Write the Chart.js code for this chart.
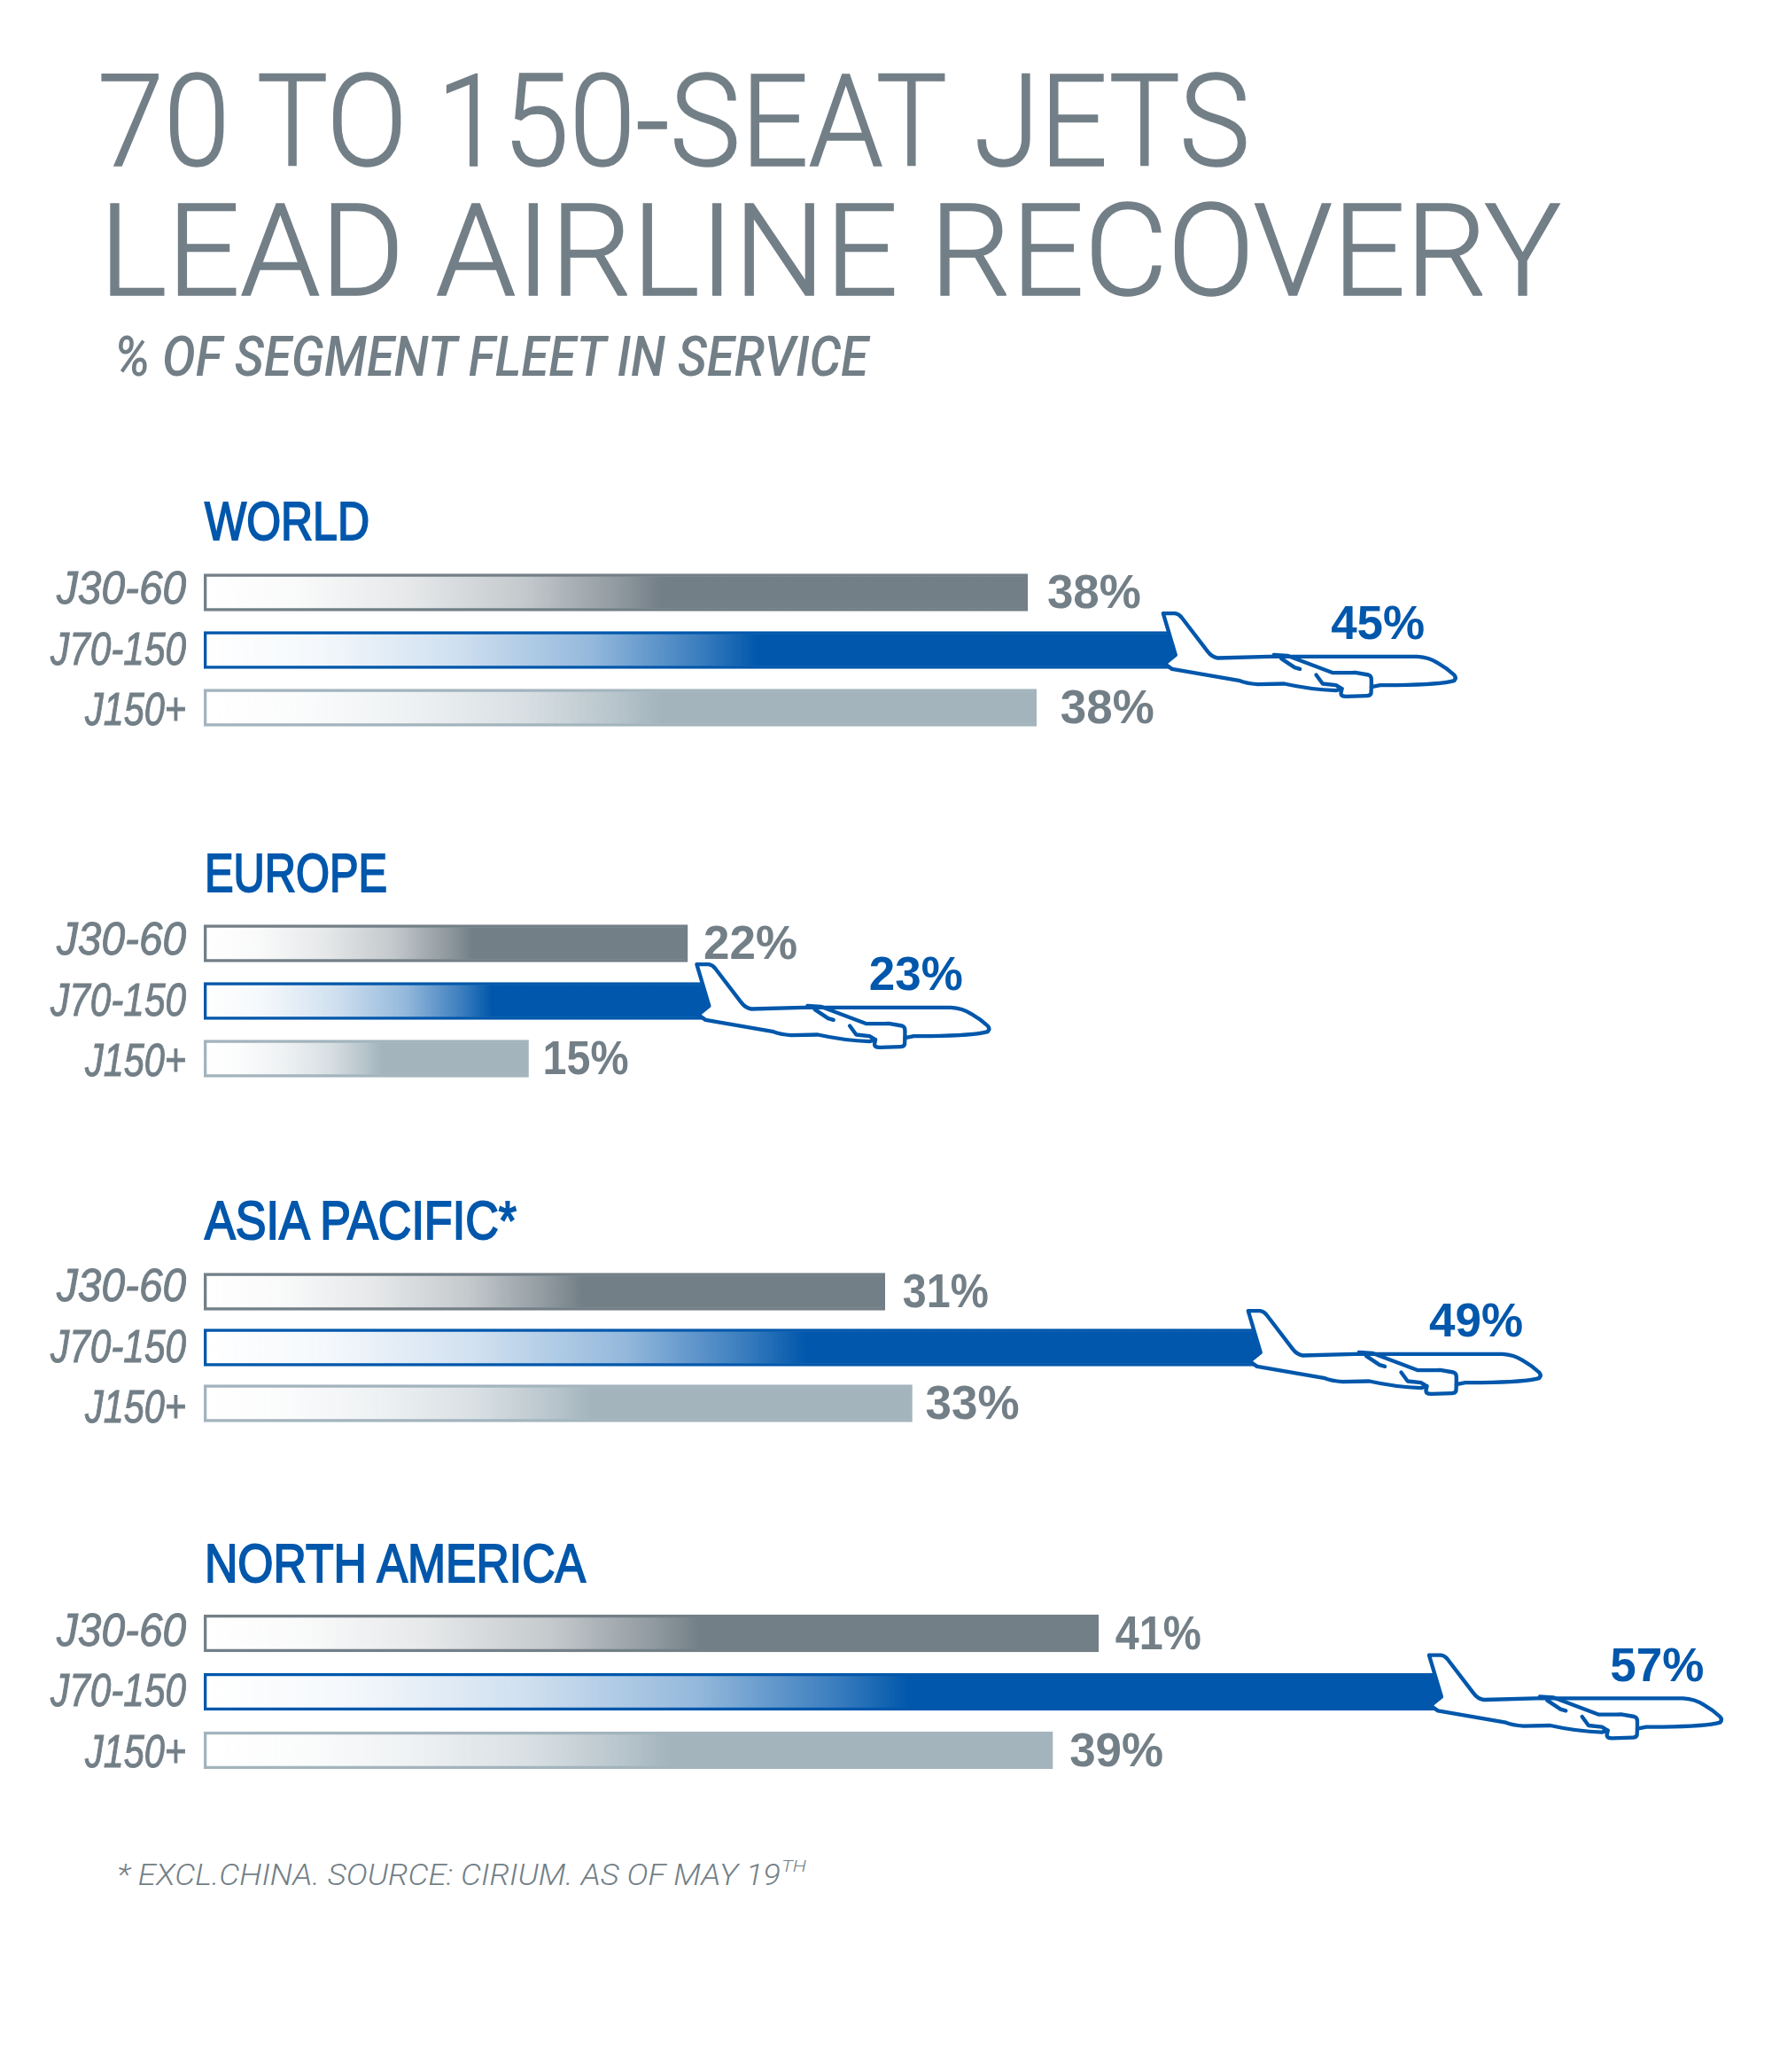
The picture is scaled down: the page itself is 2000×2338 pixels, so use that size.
<!DOCTYPE html>
<html>
<head>
<meta charset="utf-8">
<title>70 to 150-seat jets lead airline recovery</title>
<script src="https://cdn.jsdelivr.net/npm/chart.js@4"></script>
<style>
    html, body { margin: 0; background: #fff; }
    body { position: relative; width: 2000px; height: 2338px; overflow: hidden; }
    canvas, svg { position: absolute; left: 0; }
    svg { top: 0; }
    text { fill: #737f87; }
    .title { font: 300 145px Roboto, sans-serif; stroke: #737f87; stroke-width: 1.5px; }
    .sub { font: italic 500 62px Roboto, sans-serif; }
    .head { font: 62px "Liberation Sans Narrow", sans-serif; fill: #0057ab; stroke: #0057ab; stroke-width: 2px; }
    .foot { font: italic 300 33px Roboto, sans-serif; }
    .sup { font: italic 300 18px Roboto, sans-serif; }
</style>
</head>
<body>
<svg width="2000" height="2338">
    <text class="title" x="110" y="187" textLength="1301" lengthAdjust="spacingAndGlyphs">70 TO 150-SEAT JETS</text>
    <text class="title" x="112" y="333" textLength="1650" lengthAdjust="spacingAndGlyphs">LEAD AIRLINE RECOVERY</text>
    <text class="sub" x="129" y="424" textLength="851" lengthAdjust="spacingAndGlyphs">% OF SEGMENT FLEET IN SERVICE</text>
    <text class="head" x="231" y="609" textLength="186" lengthAdjust="spacingAndGlyphs">WORLD</text>
    <text class="head" x="231" y="1006" textLength="206" lengthAdjust="spacingAndGlyphs">EUROPE</text>
    <text class="head" x="231" y="1398" textLength="352" lengthAdjust="spacingAndGlyphs">ASIA PACIFIC*</text>
    <text class="head" x="231" y="1785" textLength="430" lengthAdjust="spacingAndGlyphs">NORTH AMERICA</text>
    <text class="foot" x="132" y="2127" textLength="749" lengthAdjust="spacingAndGlyphs">* EXCL.CHINA. SOURCE: CIRIUM. AS OF MAY 19</text>
    <text class="sup" x="882" y="2112" textLength="28" lengthAdjust="spacingAndGlyphs">TH</text>
</svg>
<canvas id="world"></canvas>
<canvas id="europe"></canvas>
<canvas id="asia"></canvas>
<canvas id="northAmerica"></canvas>
<script>
const segments = ["J30-60", "J70-150", "J150+"];
const world = [37.8, 44.6, 38.2];
const europe = [22.2, 23.2, 14.9];
const asiaPacific = [31.25, 48.5, 32.5];
const northAmerica = [41.05, 56.8, 38.95];

const grey = "#737f87";
const blue = "#0057ab";
const segmentRgb = ["115,127,135", "0,87,171", "163,180,189"];
const labelColors = [grey, blue, grey];

// how strong the bar colour is along the fade, and where the fade ends per segment
const fadeStops = [[0, 0], [0.2, 0.04], [0.45, 0.18], [0.7, 0.42], [0.9, 0.78], [1, 1]];
const fadeEnds = [0.555, 0.57, 0.55];

const tickWidths = [146, 153, 114];
const tickPitch = 68.5;

const pxPerPercent = 24.6;
const barLeft = 230;
const tickRight = 210;
const pad = 60;

const plane = {
    outline: new Path2D("M340 97 L380 97 Q392 98 402 110 L490 225 Q505 245 525 248 L700 243 L1200 243 Q1240 245 1270 265 Q1300 282 1325 305 Q1335 315 1325 325 Q1280 338 1130 340 L1075 340 L1045 346 L1044 368 Q1040 376 1030 376 L960 378 Q942 378 942 368 L945 352 L925 358 Q840 355 750 335 L660 337 Q620 333 600 325 L370 285 L345 268 L382 238 Z"),
    details: new Path2D("M715 237 L760 240 L915 298 Q960 298 990 297 L1035 305 Q1045 308 1045 320 L1045 346 M740 250 L785 280 L803 285 M858 305 L880 335 L925 340 L945 352"),
};

const fadeFill = (context) => {
    const { chart, dataIndex, parsed } = context;
    const rgb = segmentRgb[dataIndex] || segmentRgb[0];
    const x0 = chart.scales.x ? chart.scales.x.getPixelForValue(0) : NaN;
    const x1 = chart.scales.x && parsed ? chart.scales.x.getPixelForValue(parsed.x) : NaN;
    if (!Number.isFinite(x0) || !Number.isFinite(x1)) return `rgb(${rgb})`;
    const gradient = chart.ctx.createLinearGradient(x0, 0, x1, 0);
    fadeStops.forEach(([at, alpha]) => gradient.addColorStop(at * fadeEnds[dataIndex], `rgba(${rgb},${alpha})`));
    gradient.addColorStop(1, `rgb(${rgb})`);
    return gradient;
};

const drawPlane = (ctx, barEnd, y) => {
    ctx.save();
    ctx.translate(barEnd - 15, y - 42);
    ctx.scale(1 / 3, 1 / 3);
    ctx.translate(-338, -95);
    ctx.fillStyle = "#fff";
    ctx.strokeStyle = blue;
    ctx.lineWidth = 13;
    ctx.lineJoin = "round";
    ctx.lineCap = "round";
    ctx.fill(plane.outline);
    ctx.stroke(plane.outline);
    ctx.stroke(plane.details);
    ctx.restore();
};

const barExtras = {
    id: "barExtras",
    afterDatasetsDraw(chart, args, opts) {
        const ctx = chart.ctx;
        const values = chart.data.datasets[0].data;
        const bars = chart.getDatasetMeta(0).data;
        ctx.save();
        ctx.textBaseline = "middle";
        bars.forEach((bar, i) => {
            // segment name, squeezed to the width it has in the artwork
            ctx.font = "italic 51px 'Liberation Sans', sans-serif";
            ctx.textAlign = "right";
            ctx.fillStyle = grey;
            ctx.strokeStyle = grey;
            ctx.lineWidth = 1;
            const name = chart.scales.y.getLabelForValue(i);
            const nameY = bars[1].y + (i - 1) * tickPitch + 2;
            ctx.fillText(name, tickRight, nameY, tickWidths[i]);
            ctx.strokeText(name, tickRight, nameY, tickWidths[i]);

            const isTarget = i === 1;
            if (isTarget) drawPlane(ctx, bar.x, bar.y);
            ctx.font = "bold 53px 'Liberation Sans', sans-serif";
            ctx.textAlign = "left";
            ctx.fillStyle = labelColors[i];
            const label = Math.round(values[i]) + "%";
            const labelY = isTarget ? bar.y - 27 : bar.y + 3;
            // the artwork's figure 1 is narrow
            ctx.fillText(label, bar.x + opts.labelGaps[i], labelY, label.includes("1") ? 97 : 106);
        });
        ctx.restore();
    },
};

const createPanel = (id, values, firstRowCenter, pitch, labelGaps) => {
    const canvas = document.getElementById(id);
    canvas.style.top = firstRowCenter - pitch / 2 - pad + "px";
    canvas.width = 2000;
    canvas.height = pitch * 3 + pad * 2;

    return new Chart(canvas, {
        type: "bar",
        data: {
            labels: segments,
            datasets: [
                {
                    data: values,
                    backgroundColor: fadeFill,
                    borderColor: segmentRgb.map((rgb) => `rgb(${rgb})`),
                    borderWidth: 3,
                    borderSkipped: false,
                    barThickness: 42,
                },
            ],
        },
        options: {
            indexAxis: "y",
            responsive: false,
            animation: false,
            devicePixelRatio: 1,
            layout: {
                padding: { left: 0, right: 2000 - barLeft - pxPerPercent * 70, top: pad, bottom: pad },
            },
            plugins: {
                legend: { display: false },
                tooltip: { enabled: false },
                barExtras: { labelGaps },
            },
            scales: {
                x: { display: false, min: 0, max: 70 },
                y: {
                    grid: { display: false },
                    border: { display: false },
                    afterFit: (scale) => { scale.width = barLeft; },
                    ticks: { display: false },
                },
            },
        },
        plugins: [barExtras],
    });
};

createPanel("world", world, 668, 65, [22, 175, 27]);
createPanel("europe", europe, 1064, 65, [18, 180, 16]);
createPanel("asia", asiaPacific, 1457, 63, [20, 190, 15]);
createPanel("northAmerica", northAmerica, 1843, 66, [19, 190, 19]);
</script>
</body>
</html>
